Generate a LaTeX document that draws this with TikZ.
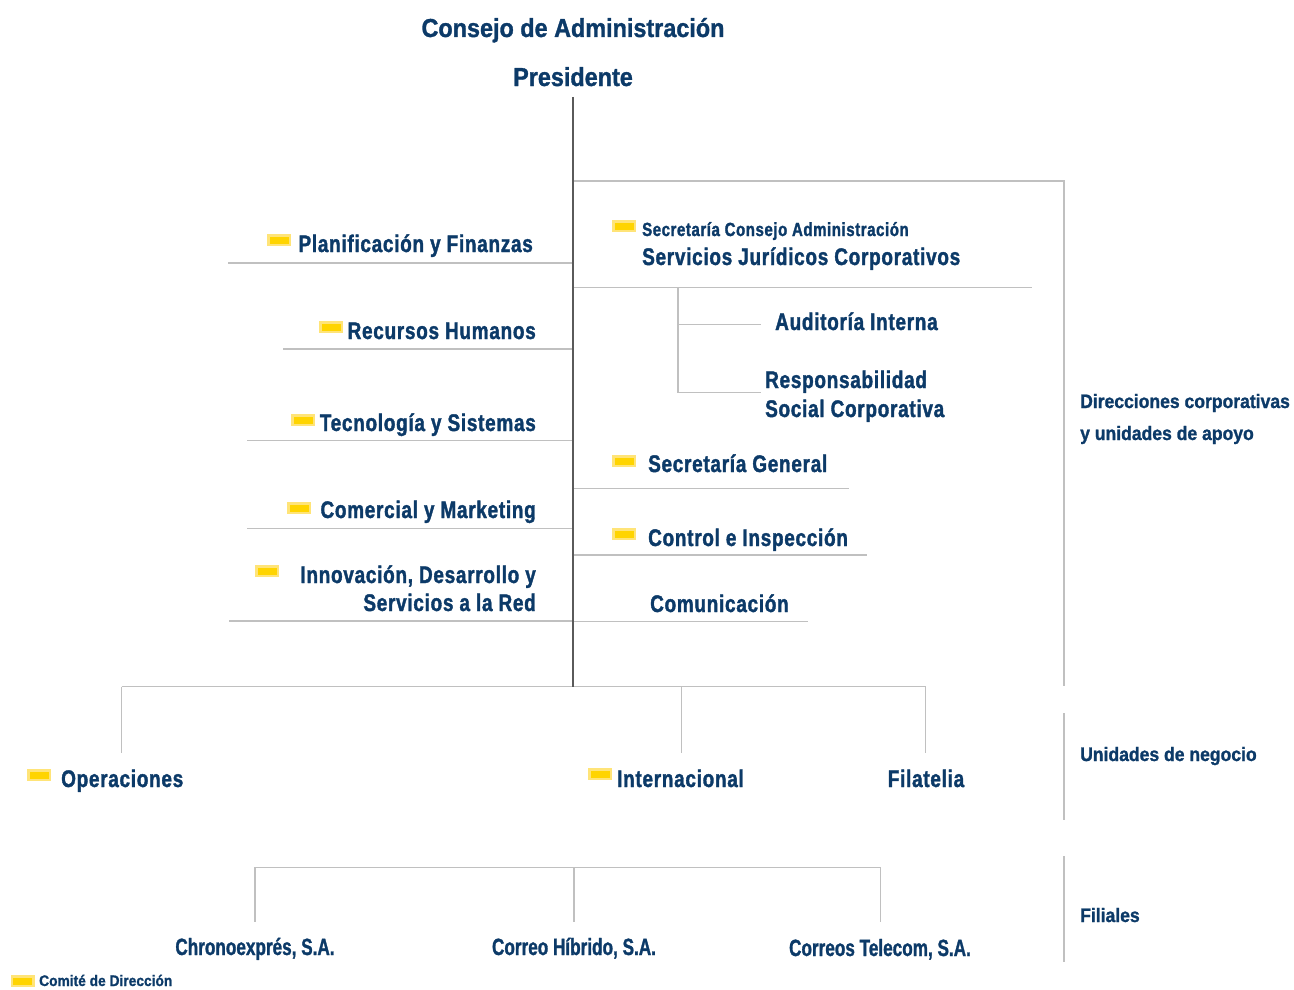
\documentclass[tikz,border=0pt]{standalone}
\usepackage{fontspec}
\setmainfont{Liberation Sans}
\newfontfamily\fA{Liberation Sans}[FakeStretch=0.79, LetterSpace=3, FakeBold=1.5]
\newfontfamily\fB{Liberation Sans}[FakeStretch=0.9, FakeBold=1.2]
\newfontfamily\fC{Liberation Sans}[FakeStretch=0.73, FakeBold=1.2]
\definecolor{navy}{RGB}{12,58,104}
\definecolor{rulec}{RGB}{192,192,192}
\definecolor{spinec}{RGB}{90,90,90}
\definecolor{ymark}{RGB}{255,212,0}
\definecolor{yedge}{RGB}{255,228,120}
\tikzset{
  txt/.style={inner sep=0, text=navy},
  big/.style={txt, font=\fB\bfseries\fontsize{26}{30}\selectfont},
  lbl/.style={txt, font=\fA\bfseries\fontsize{24}{28}\selectfont},
  sml/.style={txt, font=\fA\bfseries\fontsize{19}{22}\selectfont},
  side/.style={txt, font=\fB\bfseries\fontsize{19.5}{23}\selectfont},
  filial/.style={txt, font=\fC\bfseries\fontsize{23.5}{27}\selectfont},
  legend/.style={txt, font=\fB\bfseries\fontsize{15.3}{18}\selectfont},
  ymk/.style={draw=yedge, fill=ymark, line width=2.5pt, minimum width=21.5pt, minimum height=9.5pt, inner sep=0, anchor=center},
  rl/.style={draw=rulec, line width=1.3pt},
  spl/.style={draw=spinec, line width=1.5pt}
}
\begin{document}
\begin{tikzpicture}[x=1pt,y=-1pt]
\useasboundingbox (0,0) rectangle (1294,990);
% titles
\node[big, anchor=base] (consejo) at (573,37) {Consejo de Administración};
\node[big, anchor=base] (pres) at (573,86) {Presidente};
% spine
\coordinate (spT) at (573,97);
\coordinate (spB) at (573,687);
% left labels
\node[lbl, anchor=base east] (plan) at (533,252) {Planificación y Finanzas};
\node[lbl, anchor=base east] (rrhh) at (536,339) {Recursos Humanos};
\node[lbl, anchor=base east] (tec) at (536,431) {Tecnología y Sistemas};
\node[lbl, anchor=base east] (com) at (536,518) {Comercial y Marketing};
\node[lbl, anchor=base east] (inn1) at (536,583) {Innovación, Desarrollo y};
\node[lbl, anchor=base east] (inn2) at (536,611) {Servicios a la Red};
% right labels
\node[sml, anchor=base west] (secc) at (642,236) {Secretaría Consejo Administración};
\node[lbl, anchor=base west] (sjc) at (642,265) {Servicios Jurídicos Corporativos};
\node[lbl, anchor=base west] (aud) at (775,330) {Auditoría Interna};
\node[lbl, anchor=base west] (rsc1) at (765,388) {Responsabilidad};
\node[lbl, anchor=base west] (rsc2) at (765,417) {Social Corporativa};
\node[lbl, anchor=base west] (secg) at (648,472) {Secretaría General};
\node[lbl, anchor=base west] (ctrl) at (648,546) {Control e Inspección};
\node[lbl, anchor=base west] (comu) at (650,612) {Comunicación};
% side labels
\node[side, anchor=base west] (dir1) at (1080,408) {Direcciones corporativas};
\node[side, anchor=base west] (dir2) at (1080,440) {y unidades de apoyo};
\node[side, anchor=base west] (unid) at (1080,761) {Unidades de negocio};
\node[side, anchor=base west] (fil) at (1080,922) {Filiales};
% business units
\node[lbl, anchor=base west] (oper) at (61,787) {Operaciones};
\node[lbl, anchor=base west] (intl) at (617,787) {Internacional};
\node[lbl, anchor=base] (filat) at (926,787) {Filatelia};
% subsidiaries
\node[filial, anchor=base] (chrono) at (255,955) {Chronoexprés, S.A.};
\node[filial, anchor=base] (hib) at (574,955) {Correo Híbrido, S.A.};
\node[filial, anchor=base] (tel) at (880,956) {Correos Telecom, S.A.};
% legend
\node[legend, anchor=base west] (comite) at (39,986) {Comité de Dirección};
% markers
\node[ymk] (m1) at (279,240) {};
\node[ymk] (m2) at (331,327) {};
\node[ymk] (m3) at (303,420) {};
\node[ymk] (m4) at (299,508) {};
\node[ymk] (m5) at (267,571) {};
\node[ymk] (m6) at (624,226) {};
\node[ymk] (m7) at (624,461) {};
\node[ymk] (m8) at (624,534) {};
\node[ymk] (m9) at (39,775) {};
\node[ymk] (m10) at (600,774) {};
\node[ymk] (m11) at (22.5,981) {};
% line endpoints
\coordinate (planL) at (228,263);
\coordinate (rrhhL) at (283,349);
\coordinate (tecL) at (247,440.7);
\coordinate (comL) at (247,528.3);
\coordinate (innL) at (229,621);
\coordinate (boxTR) at (1064,181);
\coordinate (boxBR) at (1064,686);
\coordinate (boxTL) at (573,181);
\coordinate (sjcR) at (1032,287.3);
\coordinate (secgR) at (849,488.3);
\coordinate (ctrlR) at (867,555);
\coordinate (comuR) at (808,621.5);
\coordinate (subT) at (678,287.3);
\coordinate (subB) at (678,392.7);
\coordinate (audR) at (761,324.3);
\coordinate (rscR) at (761,392.7);
\coordinate (buL) at (121.7,686.7);
\coordinate (buR) at (925.7,686.7);
\coordinate (buI) at (681.7,686.7);
\coordinate (buEnd) at (0,752.7);
\coordinate (fiL) at (255,867.3);
\coordinate (fiM) at (574,867.3);
\coordinate (fiR) at (880.7,867.3);
\coordinate (fiEnd) at (0,921.7);
\coordinate (sepA1) at (1064,713);
\coordinate (sepA2) at (1064,820);
\coordinate (sepB1) at (1064,856);
\coordinate (sepB2) at (1064,962);
% connectors
\draw[rl] (boxTL) -- (boxTR) -- (boxBR);
\draw[rl] (planL) -- (planL -| spT);
\draw[rl] (rrhhL) -- (rrhhL -| spT);
\draw[rl] (tecL) -- (tecL -| spT);
\draw[rl] (comL) -- (comL -| spT);
\draw[rl] (innL) -- (innL -| spT);
\draw[rl] (sjcR -| spT) -- (sjcR);
\draw[rl] (secgR -| spT) -- (secgR);
\draw[rl] (ctrlR -| spT) -- (ctrlR);
\draw[rl] (comuR -| spT) -- (comuR);
\draw[rl] (subT) -- (subB) -- (rscR);
\draw[rl] (audR -| subT) -- (audR);
\draw[rl] (buL) -- (buR);
\draw[rl] (buL) -- (buL |- buEnd);
\draw[rl] (buI) -- (buI |- buEnd);
\draw[rl] (buR) -- (buR |- buEnd);
\draw[rl] (fiL) -- (fiR);
\draw[rl] (fiL) -- (fiL |- fiEnd);
\draw[rl] (fiM) -- (fiM |- fiEnd);
\draw[rl] (fiR) -- (fiR |- fiEnd);
\draw[rl] (sepA1) -- (sepA2);
\draw[rl] (sepB1) -- (sepB2);
\draw[spl] (spT) -- (spB);
\end{tikzpicture}
\end{document}
